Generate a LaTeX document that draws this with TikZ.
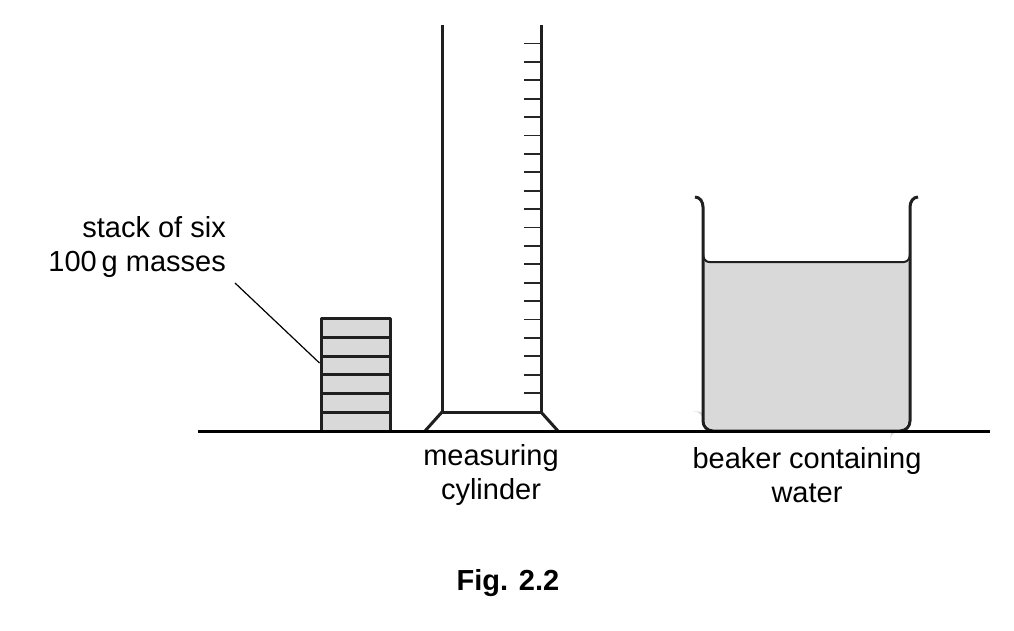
\documentclass[tikz,border=0pt]{standalone}
\usepackage{fontspec}
\setmainfont{Liberation Sans}
\begin{document}
\begin{tikzpicture}[x=1pt,y=-1pt,line join=round,
  lbl/.style={font=\fontsize{29}{34}\selectfont,inner sep=0pt,align=center},
  wall/.style={line width=3pt,draw=black!88}]
\useasboundingbox (0,0) rectangle (1014,631);
\definecolor{fillg}{gray}{0.85}
% stack
\node[draw=black!88,line width=3pt,fill=fillg,minimum width=69pt,minimum height=113pt,inner sep=0pt] (stack) at (355.5,374.5) {};
\foreach \y in {337,356,374,393,412} \draw[line width=3pt,black!88] (321,\y) -- (390,\y);
\node[lbl,align=right,anchor=east] (stl) at (226,247) {stack of six\\100\,g masses};
\coordinate (lp) at (235,283);
\draw[line width=1.2pt] (lp) -- (stack.west |- 0,363);
% cylinder
\draw[wall] (442,25) -- (442,412) -- (541,412) -- (541,25);
\draw[wall] (425,431) -- (442,412) (541,412) -- (558,431);
\foreach \i in {0,...,19} \draw[line width=1.8pt,black!85] (524,43.6+18.39*\i) -- (541,43.6+18.39*\i);
% beaker
\fill[fillg] (703,262) -- (703,421) arc[start angle=180,end angle=90,radius=-10] -- (900,431) arc[start angle=90,end angle=0,radius=-10] -- (910,262) -- cycle;
\fill[fillg] (703,421) -- (703,262) -- (910,262) -- (910,421) to[out=90,in=0] (900,431) -- (713,431) to[out=180,in=90] (703,421);
\draw[wall] (695,197) to[out=0,in=90] (703,207) -- (703,421) to[out=-90,in=180] (713,431) -- (900,431) to[out=0,in=-90] (910,421) -- (910,207) to[out=90,in=180] (918,197);
\draw[line width=2pt,black!88] (703,254) to[out=-90,in=180] (709,262) -- (904,262) to[out=0,in=-90] (910,254);
% ground
\draw[line width=3pt] (198,431) -- (990,431);
\node[lbl] (mc) at (491,475) {measuring\\cylinder};
\node[lbl] (bw) at (807,475) {beaker containing\\water};
\node[lbl,font=\fontsize{29}{34}\selectfont\bfseries] (fig) at (508,583) {Fig. 2.2};
\end{tikzpicture}
\end{document}
